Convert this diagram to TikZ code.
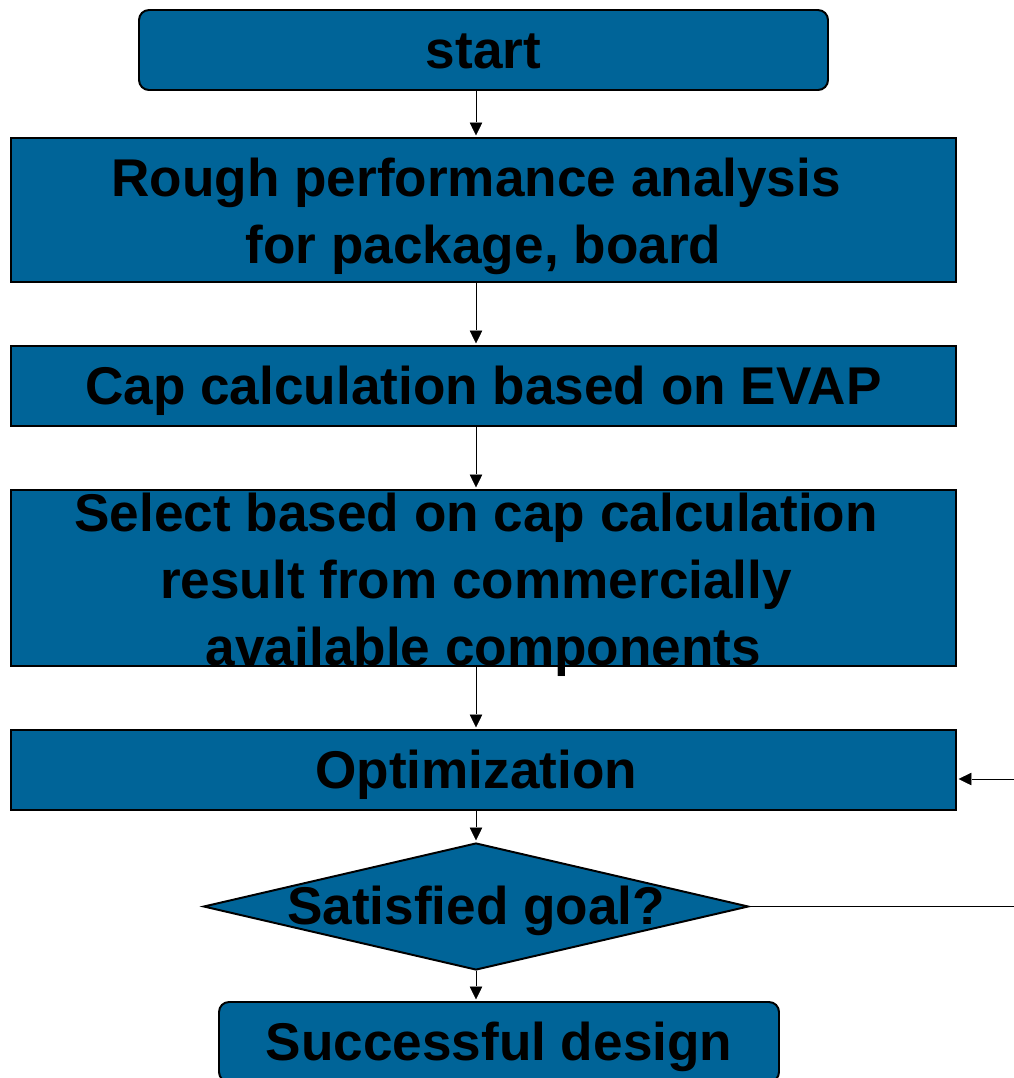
\documentclass[tikz,border=0pt]{standalone}
\usepackage{fontspec}
\setmainfont{Liberation Sans}
\usetikzlibrary{positioning, shapes.geometric, arrows.meta}
\definecolor{flowblue}{RGB}{0,100,152}

\begin{document}
\begin{tikzpicture}
\tikzset{
->, % every connector gets a head at its end
>={Triangle[length=0.38cm, width=0.36cm]}, % filled triangle heads
line width=1.4pt,
node distance=4cm, % centre to centre, changed per node where needed
flowtext/.style={font=\fontsize{37.8}{47.7}\selectfont\bfseries, align=center, inner sep=0pt},
oneline/.style={flowtext, text height=1.2cm, text depth=0.282cm}, % centre on font ascent/descent
process/.style={oneline, draw=black, line width=1.4pt, fill=flowblue, minimum width=23.625cm, minimum height=2cm},
terminal/.style={process, rounded corners=0.25cm, minimum width=17.225cm},
decision/.style={diamond, draw=black, line width=1.4pt, fill=flowblue, minimum width=13.625cm, minimum height=3.175cm, inner sep=0pt},
}
	\useasboundingbox (0,0) rectangle (25.35,-26.95);

	\node[terminal] (start) at (12.0875,-1.25) {start};
	\node[process, below of=start, minimum height=3.6cm] (rough) {};
	\node[flowtext, yshift=-0.15cm] (roughtext) at (rough) {Rough performance analysis\kern0.278em\\for package, board};
	\node[process, below of=rough, node distance=4.4cm] (cap) {Cap calculation based on EVAP};
	\node[process, below of=cap, node distance=4.8cm, minimum height=4.4cm] (select) {};
	\node[flowtext, yshift=-0.17cm] (selecttext) at (select) {Select based on cap calculation\kern0.278em\\result from commercially\kern0.278em\\available components};
	\node[process, below of=select, node distance=4.8cm] (opt) {Optimization\kern0.278em};
	\node[decision, below of=opt, node distance=3.4125cm, xshift=-0.1875cm] (goal) {};
	\node[oneline] (goaltext) at (goal) {Satisfied goal?};
	\node[terminal, below of=goal, node distance=3.3875cm, xshift=0.575cm, minimum width=14cm] (success) {Successful design};

	\draw (start.south -| goal.north) -- (rough.north -| goal.north);
	\draw (rough.south -| goal.north) -- (cap.north -| goal.north);
	\draw (cap.south -| goal.north) -- (select.north -| goal.north);
	\draw (select.south -| goal.north) -- (opt.north -| goal.north);
	\draw (opt.south -| goal.north) -- (goal.north);
	\draw (goal.south) -- (success.north -| goal.south);
	\draw (goal.east) -- ++(8,0) |- ([yshift=-0.225cm]opt.east);
\end{tikzpicture}
\end{document}
